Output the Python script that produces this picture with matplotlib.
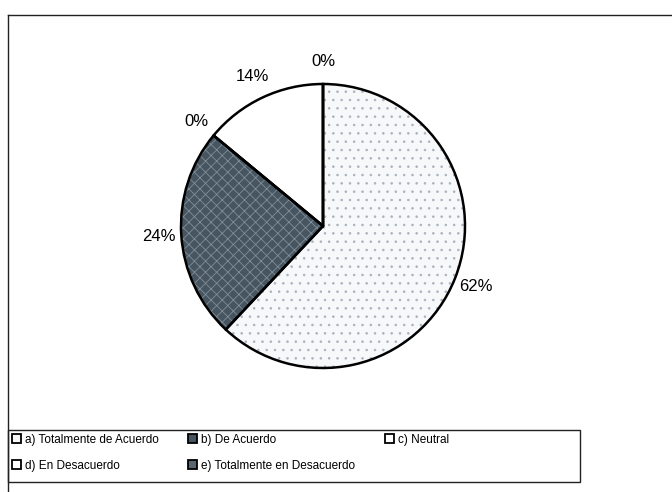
import matplotlib.pyplot as plt
from matplotlib.lines import Line2D
from matplotlib.patches import Rectangle

plt.rcParams['font.family'] = ['Liberation Sans', 'DejaVu Sans']
plt.rcParams['hatch.linewidth'] = 0.6

# data
labels = ['a) Totalmente de Acuerdo', 'b) De Acuerdo', 'c) Neutral',
          'd) En Desacuerdo', 'e) Totalmente en Desacuerdo']
values = [62, 24, 0, 14, 0]
pct_text = ['62%', '24%', '0%', '14%', '0%']
faces = ['#f7f8fa', '#46555f', '#ffffff', '#ffffff', '#5a6570']
hatches = ['..', 'xxx', None, None, None]
hatch_cols = ['#aab2bc', '#7f8e99', '#ffffff', '#ffffff', '#ffffff']

fig = plt.figure(figsize=(6.72, 4.92), dpi=100)
W, H = 672, 492

# outer frame (top and left edges, as in the scan)
fig.add_artist(Line2D([8 / W, 1], [1 - 15 / H, 1 - 15 / H], color='#222222', lw=1.0))
fig.add_artist(Line2D([8 / W, 8 / W], [0, 1 - 15 / H], color='#222222', lw=1.0))

# pie axes, centre ~ (323, 226) px, radius ~ 142 px
cx, cy, r = 323, 226, 142
ax = fig.add_axes([(cx - r) / W, 1 - (cy + r) / H, 2 * r / W, 2 * r / H])

# fill layer with texture
wedges, _ = ax.pie(values, colors=faces, startangle=90, counterclock=False,
                   radius=1, wedgeprops=dict(linewidth=0))
for w, h, hc in zip(wedges, hatches, hatch_cols):
    if h:
        w.set_hatch(h)
        w.set_edgecolor(hc)

# outline layer with labels
outl, texts = ax.pie(values, labels=pct_text, startangle=90, counterclock=False,
                     radius=1, labeldistance=1.16,
                     wedgeprops=dict(fill=False, edgecolor='black', linewidth=1.8),
                     textprops=dict(fontsize=12, color='black'))
for t in texts:
    t.set_horizontalalignment('center')
    t.set_verticalalignment('center')
ax.set_xlim(-1, 1)
ax.set_ylim(-1, 1)
ax.axis('off')

# legend box
fig.add_artist(Rectangle((8 / W, 1 - 482 / H), 572 / W, 52 / H, transform=fig.transFigure,
                         fill=False, edgecolor='#222222', linewidth=1.0))

# legend, row-major order in 3 columns
handles = []
for f in faces:
    p = plt.Rectangle((0, 0), 1, 1, facecolor=f, edgecolor='black', linewidth=1.3)
    handles.append(p)
order = [0, 3, 1, 4, 2]
leg = fig.legend([handles[i] for i in order], [labels[i] for i in order],
                 ncol=3, loc='upper left',
                 bbox_to_anchor=(8 / W, 1 - 430 / H),
                 fontsize=8.5, frameon=False, borderaxespad=0,
                 handlelength=0.8, handleheight=0.8, handletextpad=0.3,
                 columnspacing=2.5, labelspacing=1.2, borderpad=0.3)

fig.savefig('out.png', dpi=100, facecolor='white')
